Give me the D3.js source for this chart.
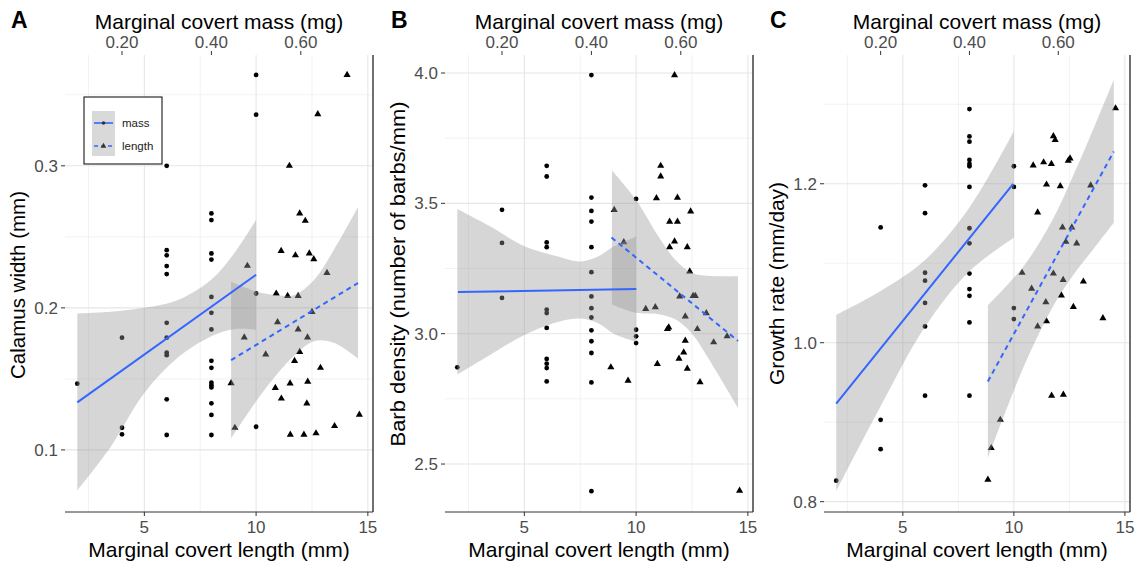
<!DOCTYPE html>
<html>
<head>
<meta charset="utf-8">
<script src="https://cdn.jsdelivr.net/npm/d3@7"></script>
<style>
  body { margin: 0; background: #fff; }
  svg text { font-family: "Liberation Sans", Arial, sans-serif; }
</style>
</head>
<body>
<svg id="chart" width="1143" height="570"></svg>
<script>
// ---- data (x in covert-length units; mass plotted as mass*20) ----
const aMassX = [2, 4,4,4, 6,6,6,6,6,6,6,6,6,6,6, 8,8,8,8,8,8,8,8,8,8,8,8,8,8,8, 10,10,10,10];
const aMassY = [0.1466, 0.179,0.1156,0.111, 0.300,0.2406,0.237,0.2294,0.2238,0.1895,0.179,0.1684,0.1667,0.1356,0.1105,
                0.2665,0.2618,0.2383,0.234,0.2077,0.1965,0.1848,0.1627,0.1578,0.1473,0.1456,0.144,0.1328,0.1246,0.1105,
                0.364,0.336,0.2101,0.1163];
const aLenX = [14.07,12.76,11.49,11.95,12.2,11.12,11.76,12.38,12.58,13.17,9.61,10.9,11.41,11.88,12.5,10.96,11.88,9.47,12.3,
               11.95,10.43,11.72,12.88,8.88,11.52,12.31,10.86,11.13,12.27,14.62,9.05,13.51,11.53,12.14,12.68];
const aLenY = [0.364,0.3364,0.300,0.2665,0.2613,0.2401,0.237,0.2383,0.2343,0.2246,0.2296,0.2101,0.2084,0.2084,0.1972,0.190,0.1848,0.1792,0.1792,
               0.169,0.1672,0.1627,0.1578,0.147,0.1468,0.148,0.1437,0.1362,0.1328,0.1248,0.1156,0.1168,0.1108,0.1108,0.1117];

const bMassX = [2, 4,4,4, 6,6,6,6,6,6,6,6,6,6,6, 8,8,8,8,8,8,8,8,8,8,8,8,8,8, 10,10,10,10];
const bMassY = [2.871, 3.475,3.348,3.137, 3.644,3.603,3.35,3.332,3.092,3.079,3.022,2.903,2.885,2.868,2.817,
                3.992,3.522,3.471,3.430,3.332,3.236,3.143,3.098,3.062,3.013,2.971,2.926,2.813,2.396,
                3.517,3.015,2.99,2.964];
const bLenX = [11.72,11.1,11.1,10.91,11.85,12.44,9.02,11.5,11.85,9.45,11.72,11.5,12.29,12.4,11.95,12.55,12.65,10.43,
               10.86,12.2,13.14,11.4,11.46,12.74,14.07,13.47,12.2,12.13,11.92,10.95,12.29,8.87,9.64,12.86,14.63];
const bLenY = [3.992,3.644,3.603,3.52,3.522,3.469,3.475,3.43,3.43,3.351,3.354,3.332,3.332,3.239,3.143,3.145,3.145,3.095,
               3.102,3.066,3.079,3.018,3.024,3.018,2.99,2.967,2.973,2.928,2.904,2.884,2.866,2.871,2.82,2.814,2.398];

const cMassX = [2, 4,4,4, 6,6,6,6,6,6,6, 8,8,8,8,8,8,8,8,8,8,8,8,8,8, 10,10,10,10];
const cMassY = [0.8264, 1.145,0.903,0.866, 1.198,1.163,1.088,1.078,1.050,1.0205,0.9333,
                1.294,1.2595,1.253,1.230,1.225,1.222,1.196,1.144,1.125,1.087,1.0675,1.059,1.0255,0.9333,
                1.222,1.196,1.0436,1.0298];
const cLenX = [14.58,11.78,11.86,10.87,11.34,11.69,12.45,12.53,11.47,12.09,13.46,11.07,12.19,12.61,12.34,12.83,
               10.37,11.78,12.22,13.13,10.8,12.14,11.44,12.68,14.01,11.07,11.47,11.7,12.23,9.39,8.98,8.83];
const cLenY = [1.295,1.260,1.255,1.223,1.227,1.225,1.229,1.232,1.199,1.197,1.198,1.164,1.145,1.145,1.127,1.125,
               1.088,1.087,1.079,1.077,1.068,1.0595,1.051,1.045,1.031,1.0205,1.027,0.9333,0.9346,0.903,0.8675,0.8277];

// fitted lines (end points) and confidence bands
const aMassFitX = [2, 10],      aMassFitY = [0.1335, 0.2233];
const aLenFitX  = [8.88, 14.56], aLenFitY = [0.1632, 0.2175];
const bMassFitX = [2.03, 10.01], bMassFitY = [3.160, 3.171];
const bLenFitX  = [8.9, 14.56],  bLenFitY = [3.369, 2.972];
const cMassFitX = [2, 9.97],     cMassFitY = [0.9233, 1.2];
const cLenFitX  = [8.83, 14.5],  cLenFitY = [0.9513, 1.2406];

const aMassBandX = [2, 3.5, 5, 6.5, 8, 9, 10];
const aMassBandLo = [0.0715, 0.1023, 0.140, 0.165, 0.180, 0.185, 0.1845];
const aMassBandHi = [0.196, 0.1972, 0.200, 0.2055, 0.220, 0.238, 0.262];
const aLenBandX = [8.88, 10.04, 10.94, 11.68, 12.58, 13.47, 14.56];
const aLenBandLo = [0.1082, 0.1351, 0.1535, 0.166, 0.1765, 0.1755, 0.1644];
const aLenBandHi = [0.2183, 0.2113, 0.2089, 0.2089, 0.2195, 0.2406, 0.271];

const bMassBandX = [2, 3.5, 5, 6.5, 7.5, 8.3, 9, 10];
const bMassBandLo = [2.843, 2.92, 2.995, 3.045, 3.058, 3.04, 3.0, 2.969];
const bMassBandHi = [3.478, 3.41, 3.335, 3.296, 3.277, 3.296, 3.334, 3.373];
const bLenBandX = [8.92, 10, 11, 11.75, 12.5, 13.2, 14.56];
const bLenBandLo = [3.112, 3.08, 3.075, 3.055, 3.0, 2.91, 2.715];
const bLenBandHi = [3.626, 3.513, 3.373, 3.284, 3.233, 3.222, 3.22];

const cMassBandX = [2, 4, 6, 8, 10];
const cMassBandLo = [0.813, 0.92, 1.02, 1.09, 1.132];
const cMassBandHi = [1.035, 1.065, 1.104, 1.17, 1.266];
const cLenBandX = [8.83, 9.65, 10.54, 11.73, 12.62, 13.67, 14.5];
const cLenBandLo = [0.855, 0.915, 0.976, 1.044, 1.083, 1.121, 1.151];
const cLenBandHi = [1.047, 1.071, 1.100, 1.154, 1.207, 1.275, 1.331];

// axes
const xTicks = [5, 10, 15], xMinor = [2.5, 7.5, 12.5];
const massTicks = [0.20, 0.40, 0.60];
const aYTicks = [0.1, 0.2, 0.3], aYMinor = [0.15, 0.25, 0.35];
const bYTicks = [2.5, 3.0, 3.5, 4.0], bYMinor = [2.75, 3.25, 3.75];
const cYTicks = [0.8, 1.0, 1.2], cYMinor = [0.9, 1.1, 1.3];

const zip = (xs, ys) => xs.map((x, i) => [x, ys[i]]);
const band = (xs, lo, hi) => xs.map((x, i) => ({x: x, lo: lo[i], hi: hi[i]}));

const panels = [
  {letter: "A", left: 65, right: 373, yDomain: [0.0563, 0.378], yTicks: aYTicks, yMinor: aYMinor,
   title: "Calamus width (mm)", titleLen: 188, titleMid: 285,
   mass: zip(aMassX, aMassY), len: zip(aLenX, aLenY),
   massFit: zip(aMassFitX, aMassFitY), lenFit: zip(aLenFitX, aLenFitY),
   massBand: band(aMassBandX, aMassBandLo, aMassBandHi), lenBand: band(aLenBandX, aLenBandLo, aLenBandHi)},
  {letter: "B", left: 445, right: 753, yDomain: [2.316, 4.069], yTicks: bYTicks, yMinor: bYMinor,
   title: "Barb density (number of barbs/mm)", titleLen: 345, titleMid: 274,
   mass: zip(bMassX, bMassY), len: zip(bLenX, bLenY),
   massFit: zip(bMassFitX, bMassFitY), lenFit: zip(bLenFitX, bLenFitY),
   massBand: band(bMassBandX, bMassBandLo, bMassBandHi), lenBand: band(bLenBandX, bLenBandLo, bLenBandHi)},
  {letter: "C", left: 824, right: 1130, yDomain: [0.787, 1.362], yTicks: cYTicks, yMinor: cYMinor,
   title: "Growth rate (mm/day)", titleLen: 203, titleMid: 283.5,
   mass: zip(cMassX, cMassY), len: zip(cLenX, cLenY),
   massFit: zip(cMassFitX, cMassFitY), lenFit: zip(cLenFitX, cLenFitY),
   massBand: band(cMassBandX, cMassBandLo, cMassBandHi), lenBand: band(cLenBandX, cLenBandLo, cLenBandHi)}
];

const plotTop = 55, plotBottom = 512;
const blue = "#3366FF";
const svg = d3.select("#chart");

panels.forEach(p => {
  const x = d3.scaleLinear().domain([1.45, 15.23]).range([p.left, p.right]);
  const y = d3.scaleLinear().domain(p.yDomain).range([plotBottom, plotTop]);
  const g = svg.append("g");

  // grid
  g.selectAll(".vminor").data(xMinor).enter().append("line")
    .attr("x1", d => x(d)).attr("x2", d => x(d)).attr("y1", plotTop).attr("y2", plotBottom)
    .attr("stroke", "#ededed").attr("stroke-width", 0.7);
  g.selectAll(".hminor").data(p.yMinor).enter().append("line")
    .attr("x1", p.left).attr("x2", p.right).attr("y1", d => y(d)).attr("y2", d => y(d))
    .attr("stroke", "#ededed").attr("stroke-width", 0.7);
  g.selectAll(".vmajor").data(xTicks).enter().append("line")
    .attr("x1", d => x(d)).attr("x2", d => x(d)).attr("y1", plotTop).attr("y2", plotBottom)
    .attr("stroke", "#e6e6e6").attr("stroke-width", 1.1);
  g.selectAll(".hmajor").data(p.yTicks).enter().append("line")
    .attr("x1", p.left).attr("x2", p.right).attr("y1", d => y(d)).attr("y2", d => y(d))
    .attr("stroke", "#e6e6e6").attr("stroke-width", 1.1);

  // points
  g.selectAll(".dot").data(p.mass).enter().append("circle")
    .attr("cx", d => x(d[0])).attr("cy", d => y(d[1])).attr("r", 2.4).attr("fill", "#000");
  g.selectAll(".tri").data(p.len).enter().append("path")
    .attr("d", d3.symbol(d3.symbolTriangle).size(22))
    .attr("transform", d => "translate(" + x(d[0]) + "," + y(d[1]) + ")")
    .attr("fill", "#000");

  // bands
  const area = d3.area().x(d => x(d.x)).y0(d => y(d.lo)).y1(d => y(d.hi))
    .curve(d3.curveCatmullRom.alpha(0.5));
  [p.massBand, p.lenBand].forEach(b => {
    g.append("path").attr("d", area(b)).attr("fill", "#999999").attr("fill-opacity", 0.4);
  });

  // fitted lines
  const line = d3.line().x(d => x(d[0])).y(d => y(d[1]));
  g.append("path").attr("d", line(p.massFit)).attr("fill", "none")
    .attr("stroke", blue).attr("stroke-width", 2);
  g.append("path").attr("d", line(p.lenFit)).attr("fill", "none")
    .attr("stroke", blue).attr("stroke-width", 2).attr("stroke-dasharray", "5,4");

  // bottom axis + right border
  g.append("line").attr("x1", p.left).attr("x2", p.right).attr("y1", plotBottom).attr("y2", plotBottom)
    .attr("stroke", "#333").attr("stroke-width", 1);
  g.append("line").attr("x1", p.right).attr("x2", p.right).attr("y1", plotTop).attr("y2", plotBottom)
    .attr("stroke", "#222").attr("stroke-width", 1.3);
  g.selectAll(".xt").data(xTicks).enter().append("line")
    .attr("x1", d => x(d)).attr("x2", d => x(d)).attr("y1", plotBottom).attr("y2", plotBottom + 4)
    .attr("stroke", "#333");
  g.selectAll(".xl").data(xTicks).enter().append("text")
    .attr("x", d => x(d)).attr("y", plotBottom + 21).attr("text-anchor", "middle")
    .attr("font-size", 17).attr("fill", "#4d4d4d").text(d => d);
  g.append("text").attr("x", (p.left + p.right) / 2).attr("y", 557).attr("text-anchor", "middle")
    .attr("font-size", 21).attr("fill", "#000").text("Marginal covert length (mm)");

  // top (mass) axis
  g.selectAll(".mt").data(massTicks).enter().append("line")
    .attr("x1", d => x(d * 20)).attr("x2", d => x(d * 20)).attr("y1", plotTop - 4).attr("y2", plotTop)
    .attr("stroke", "#333");
  g.selectAll(".ml").data(massTicks).enter().append("text")
    .attr("x", d => x(d * 20)).attr("y", plotTop - 7).attr("text-anchor", "middle")
    .attr("font-size", 17).attr("fill", "#4d4d4d").text(d => d3.format(".2f")(d));
  g.append("text").attr("x", (p.left + p.right) / 2).attr("y", 29).attr("text-anchor", "middle")
    .attr("font-size", 21).attr("fill", "#000").text("Marginal covert mass (mg)");

  // y axis
  g.selectAll(".yt").data(p.yTicks).enter().append("line")
    .attr("x1", p.left - 4).attr("x2", p.left).attr("y1", d => y(d)).attr("y2", d => y(d))
    .attr("stroke", "#333");
  g.selectAll(".yl").data(p.yTicks).enter().append("text")
    .attr("x", p.left - 7).attr("y", d => y(d)).attr("dy", "0.35em").attr("text-anchor", "end")
    .attr("font-size", 17).attr("fill", "#4d4d4d").text(d => d3.format(".1f")(d));
  g.append("text")
    .attr("transform", "translate(" + (p.left - 47) + "," + p.titleMid + ") rotate(-90)")
    .attr("x", -p.titleLen / 2).attr("dy", "0.35em")
    .attr("textLength", p.titleLen).attr("lengthAdjust", "spacingAndGlyphs")
    .attr("font-size", 20.5).attr("fill", "#000").text(p.title);

  // panel letter
  g.append("text").attr("x", p.left - 54).attr("y", 28)
    .attr("font-size", 23).attr("font-weight", "bold").attr("fill", "#000").text(p.letter);
});

// legend (panel A)
const lg = svg.append("g").attr("transform", "translate(84,97)");
lg.append("rect").attr("width", 78).attr("height", 67).attr("fill", "#fff")
  .attr("stroke", "#000").attr("stroke-width", 1);
lg.append("rect").attr("x", 8).attr("y", 14).attr("width", 23).attr("height", 45).attr("fill", "#d9d9d9");
const keys = [{label: "mass", dy: 26, dash: null, sym: d3.symbolCircle, size: 10},
              {label: "length", dy: 49, dash: "4,3", sym: d3.symbolTriangle, size: 14}];
keys.forEach(k => {
  lg.append("line").attr("x1", 10).attr("x2", 29).attr("y1", k.dy).attr("y2", k.dy)
    .attr("stroke", blue).attr("stroke-width", 1.6).attr("stroke-dasharray", k.dash);
  lg.append("path").attr("d", d3.symbol(k.sym).size(k.size))
    .attr("transform", "translate(19.5," + k.dy + ")").attr("fill", "#333");
  lg.append("text").attr("x", 38).attr("y", k.dy).attr("dy", "0.35em")
    .attr("font-size", 11.5).attr("fill", "#222").text(k.label);
});
</script>
</body>
</html>
